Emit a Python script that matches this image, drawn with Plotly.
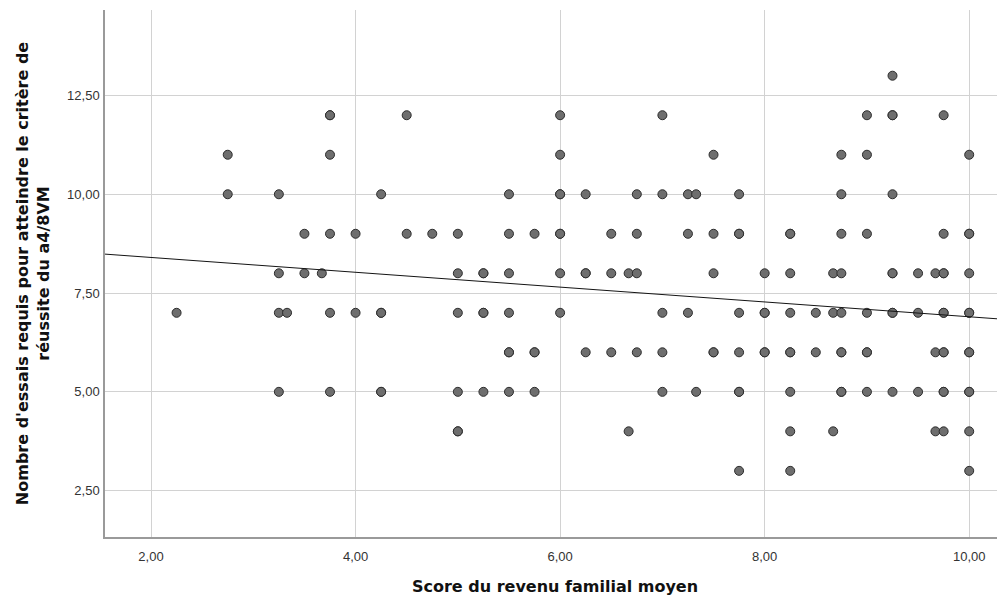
import plotly.graph_objects as go

# Data (score, trials); duplicates represent overlapping points
score = (
    [9.25] +
    [3.75, 3.75, 4.5, 6.0, 7.0, 9.0, 9.25, 9.25, 9.75] +
    [2.75, 3.75, 6.0, 7.5, 8.75, 9.0, 10.0] +
    [2.75, 3.25, 4.25, 5.5, 6.0, 6.0, 6.25, 6.75, 7.0, 7.25, 7.33, 7.75, 8.75, 9.25] +
    [3.5, 3.75, 4.0, 4.5, 4.75, 5.0, 5.5, 5.75, 6.0, 6.0, 6.5, 6.75, 7.25, 7.5, 7.75, 7.75,
     8.25, 8.25, 8.75, 9.0, 9.75, 10.0, 10.0] +
    [3.25, 3.5, 3.67, 5.0, 5.25, 5.25, 5.5, 6.0, 6.25, 6.25, 6.5, 6.67, 6.75, 7.5, 8.0, 8.25,
     8.67, 8.75, 9.25, 9.25, 9.5, 9.67, 9.75, 9.75, 10.0] +
    [2.25, 3.25, 3.33, 3.75, 4.0, 4.25, 4.25, 5.0, 5.25, 5.25, 5.5, 6.0, 7.0, 7.25, 7.75, 8.0,
     8.0, 8.25, 8.5, 8.67, 8.75, 9.0, 9.25, 9.25, 9.5, 9.75, 9.75, 10.0, 10.0] +
    [5.5, 5.5, 5.75, 5.75, 6.25, 6.5, 6.75, 7.0, 7.5, 7.5, 7.75, 8.0, 8.0, 8.25, 8.25, 8.5,
     8.75, 8.75, 9.0, 9.0, 9.67, 9.75, 9.75, 10.0, 10.0] +
    [3.25, 3.75, 4.25, 4.25, 5.0, 5.25, 5.5, 5.75, 7.0, 7.33, 7.75, 7.75, 8.25, 8.75, 8.75,
     9.0, 9.25, 9.5, 9.75, 9.75, 10.0, 10.0] +
    [5.0, 5.0, 6.67, 8.25, 8.67, 9.67, 9.75, 10.0] +
    [7.75, 8.25, 10.0]
)
trials = (
    [13] * 1 + [12] * 9 + [11] * 7 + [10] * 14 + [9] * 23 + [8] * 25 +
    [7] * 29 + [6] * 25 + [5] * 22 + [4] * 8 + [3] * 3
)

# Fit line (total-sample linear fit)
fit_intercept = 8.776
fit_slope = -0.1877

x_ticks = [2, 4, 6, 8, 10]
x_ticklabels = ["2,00", "4,00", "6,00", "8,00", "10,00"]
y_ticks = [2.5, 5, 7.5, 10, 12.5]
y_ticklabels = ["2,50", "5,00", "7,50", "10,00", "12,50"]

x_range = [1.55, 10.35]
y_range = [1.326, 14.663]

fit_x = list(x_range)
fit_y = [fit_intercept + fit_slope * v for v in fit_x]

fig = go.Figure()
fig.add_trace(go.Scatter(
    x=score, y=trials, mode="markers",
    marker=dict(size=9, color="rgb(110,110,110)",
                line=dict(color="rgb(45,45,45)", width=1)),
    showlegend=False, hoverinfo="x+y",
))
fig.add_trace(go.Scatter(
    x=fit_x, y=fit_y, mode="lines",
    line=dict(color="rgb(20,20,20)", width=1),
    showlegend=False, hoverinfo="skip",
))

font_family = "Liberation Sans, Arial, sans-serif"
title_family = "DejaVu Sans, Liberation Sans, Arial, sans-serif"
# The page body has an 8px margin, so the figure is sized to the visible area
fig.update_layout(
    width=997, height=591,
    margin=dict(l=97, r=0, t=1.5, b=62.3, autoexpand=False),
    paper_bgcolor="white", plot_bgcolor="white",
    font=dict(family=font_family, size=13, color="#333333"),
    xaxis=dict(
        range=x_range, tickvals=x_ticks, ticktext=x_ticklabels,
        showgrid=True, gridcolor="#d2d2d2", gridwidth=1,
        zeroline=False, showline=True, linecolor="#9a9a9a", linewidth=1.5,
        ticks="outside", ticklen=7, tickcolor="rgba(0,0,0,0)",
        tickfont=dict(size=13, color="#333333"), automargin=False,
        title=dict(text="<b>Score du revenu familial moyen</b>",
                   font=dict(family=title_family, size=16, color="#111111"), standoff=17),
    ),
    yaxis=dict(
        range=y_range, tickvals=y_ticks, ticktext=y_ticklabels,
        showgrid=True, gridcolor="#d2d2d2", gridwidth=1,
        zeroline=False, showline=True, linecolor="#9a9a9a", linewidth=1.5,
        ticks="outside", ticklen=1, tickcolor="rgba(0,0,0,0)",
        tickfont=dict(size=13, color="#333333"), automargin=False,
        title=dict(text="<b>Nombre d'essais requis pour atteindre le critère de<br>réussite du a4/8VM</b>",
                   font=dict(family=title_family, size=16, color="#111111"), standoff=14),
    ),
)

fig.write_html("out.html")
